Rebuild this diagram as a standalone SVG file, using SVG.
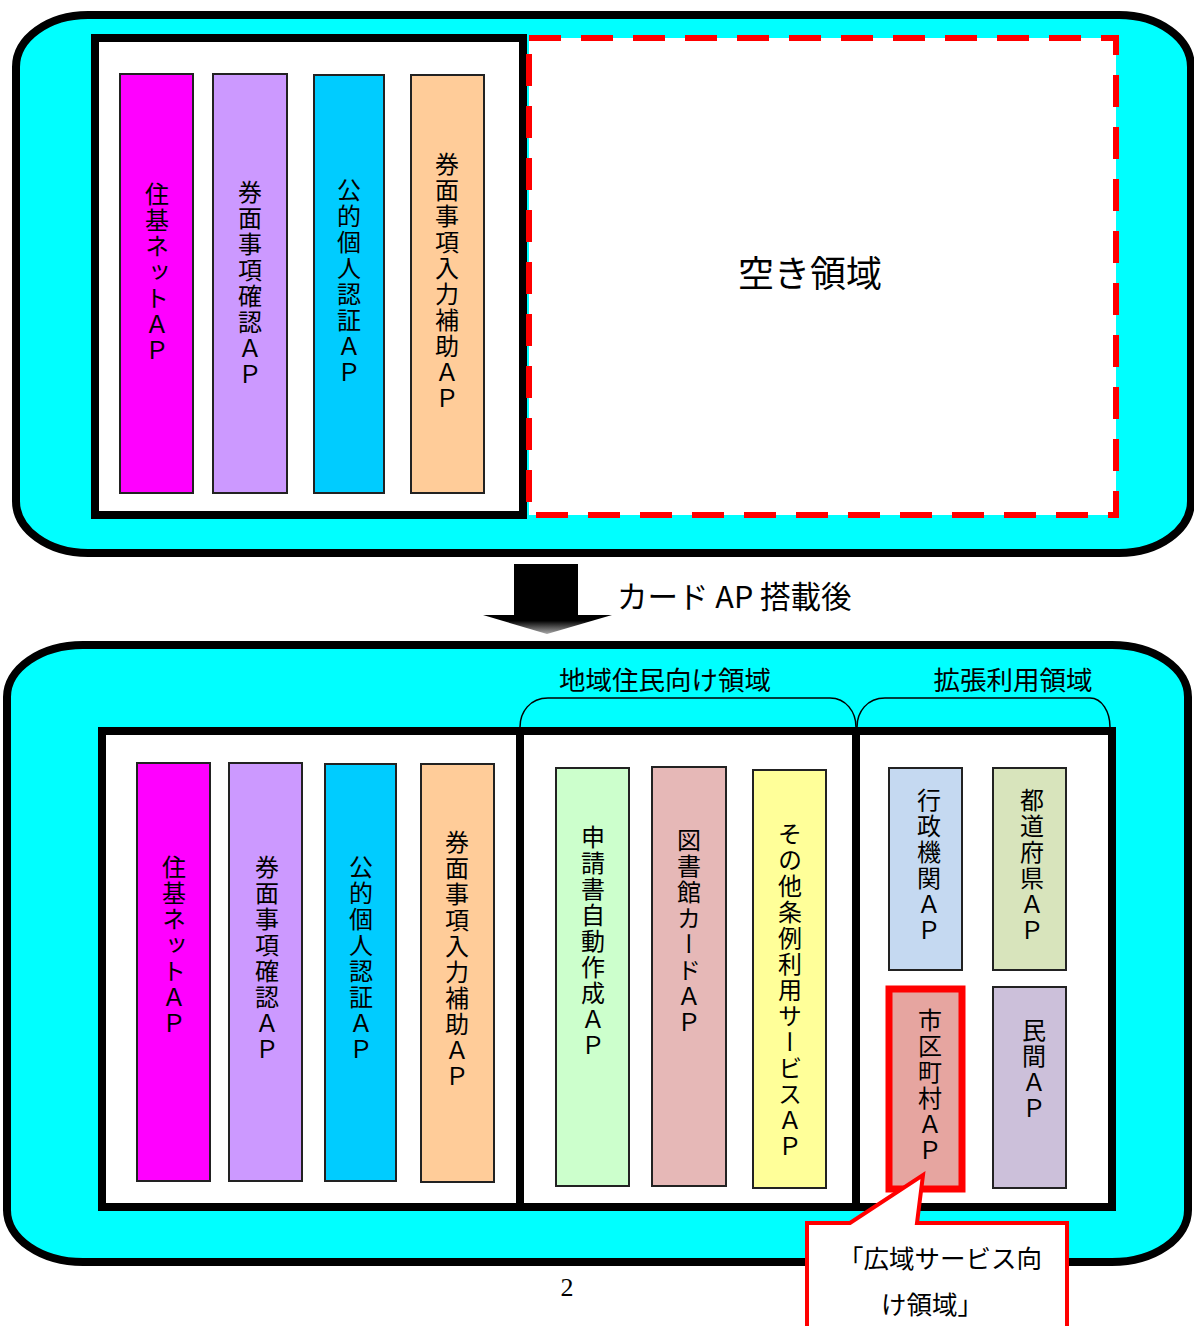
<svg xmlns="http://www.w3.org/2000/svg" width="1194" height="1326" viewBox="0 0 1194 1326">
<style>
.outer{fill:#00FFFF;stroke:#000;stroke-width:8}
.inner{fill:#fff;stroke:#000;stroke-width:8}
.bar{stroke:#222;stroke-width:2}
.vt{font-family:"Noto Sans CJK JP","Noto Sans",sans-serif;font-size:24px;fill:#000;writing-mode:vertical-rl;text-orientation:upright;letter-spacing:2px}
.ht{font-family:"Noto Sans CJK JP","Noto Sans",sans-serif;fill:#000}
.brace{fill:none;stroke:#000;stroke-width:1.5}
</style>
<defs>
<linearGradient id="headg" x1="0" y1="0" x2="0" y2="1">
<stop offset="0" stop-color="#000"/>
<stop offset="0.3" stop-color="#000"/>
<stop offset="1" stop-color="#aaa"/>
</linearGradient>
</defs>

<!-- TOP PANEL -->
<g id="top-panel">
<rect class="outer" x="16" y="15" width="1175" height="538" rx="72" ry="52"/>
<rect class="inner" x="95" y="38" width="428" height="477"/>
</g>
<g id="free-area">
<rect x="529" y="38" width="587" height="477" fill="#fff" stroke="#FF0000" stroke-width="6" stroke-dasharray="32 20"/>
<text class="ht" x="810" y="287" font-size="36" text-anchor="middle">空き領域</text>
</g>
<g id="top-ap1"><rect class="bar" x="120" y="74" width="73" height="419" fill="#FF00FF"/><text class="vt" x="157" y="182">住基ネットＡＰ</text></g>
<g id="top-ap2"><rect class="bar" x="213" y="74" width="74" height="419" fill="#CC99FF"/><text class="vt" x="250" y="180">券面事項確認ＡＰ</text></g>
<g id="top-ap3"><rect class="bar" x="314" y="75" width="70" height="418" fill="#00CCFF"/><text class="vt" x="349" y="178">公的個人認証ＡＰ</text></g>
<g id="top-ap4"><rect class="bar" x="411" y="75" width="73" height="418" fill="#FFCC99"/><text class="vt" x="447" y="152">券面事項入力補助ＡＰ</text></g>

<!-- ARROW -->
<g id="arrow">
<rect x="514" y="564" width="64" height="52" fill="#000"/>
<polygon points="483,615 612,615 547,634" fill="url(#headg)"/>
<text class="ht" x="617" y="608" font-size="30.5">カード AP 搭載後</text>
</g>

<!-- BOTTOM PANEL -->
<g id="bottom-panel">
<rect class="outer" x="7" y="645" width="1181" height="617" rx="76" ry="52"/>
<rect class="inner" x="102" y="731" width="1010" height="476"/>
<line x1="520" y1="731" x2="520" y2="1207" stroke="#000" stroke-width="8"/>
<line x1="856" y1="731" x2="856" y2="1207" stroke="#000" stroke-width="8"/>
</g>

<g id="connectors">
<path class="brace" d="M520,727 C520,712 530,698 548,698 L830,698 C846,698 856,712 856,727"/>
<path class="brace" d="M857,727 C857,712 867,698 885,698 L1090,698 C1102,698 1110,712 1110,727"/>
</g>
<g id="label-local"><text class="ht" x="665" y="690" font-size="26.5" text-anchor="middle">地域住民向け領域</text></g>
<g id="label-ext"><text class="ht" x="1013" y="690" font-size="26.5" text-anchor="middle">拡張利用領域</text></g>

<g id="b-ap1"><rect class="bar" x="137" y="763" width="73" height="418" fill="#FF00FF"/><text class="vt" x="174" y="855">住基ネットＡＰ</text></g>
<g id="b-ap2"><rect class="bar" x="229" y="763" width="73" height="418" fill="#CC99FF"/><text class="vt" x="267" y="855">券面事項確認ＡＰ</text></g>
<g id="b-ap3"><rect class="bar" x="325" y="764" width="71" height="417" fill="#00CCFF"/><text class="vt" x="361" y="855">公的個人認証ＡＰ</text></g>
<g id="b-ap4"><rect class="bar" x="421" y="764" width="73" height="418" fill="#FFCC99"/><text class="vt" x="457" y="830">券面事項入力補助ＡＰ</text></g>
<g id="b-ap5"><rect class="bar" x="556" y="768" width="73" height="418" fill="#CCFFCC"/><text class="vt" x="593" y="825">申請書自動作成ＡＰ</text></g>
<g id="b-ap6"><rect class="bar" x="652" y="767" width="74" height="419" fill="#E6B8B7"/><text class="vt" x="689" y="828">図書館カードＡＰ</text></g>
<g id="b-ap7"><rect class="bar" x="753" y="770" width="73" height="418" fill="#FFFF99"/><text class="vt" x="790" y="822">その他条例利用サービスＡＰ</text></g>
<g id="b-ap8"><rect class="bar" x="889" y="768" width="73" height="202" fill="#C5D9F1"/><text class="vt" x="929" y="788">行政機関ＡＰ</text></g>
<g id="b-ap9"><rect class="bar" x="993" y="768" width="73" height="202" fill="#D8E4BC"/><text class="vt" x="1032" y="788">都道府県ＡＰ</text></g>
<g id="b-ap10"><rect x="889" y="989" width="73" height="200" fill="#E6A5A0" stroke="#FF0000" stroke-width="7"/><text class="vt" x="930" y="1008">市区町村ＡＰ</text></g>
<g id="b-ap11"><rect class="bar" x="993" y="987" width="73" height="201" fill="#CCC0DA"/><text class="vt" x="1034" y="1018">民間ＡＰ</text></g>

<text x="567" y="1296" font-family="Liberation Serif,serif" font-size="26" text-anchor="middle">2</text>

<g id="callout">
<path d="M807,1330 L807,1223 L850,1223 L923,1175 L917,1223 L1067,1223 L1067,1330" fill="#fff" stroke="#FF0000" stroke-width="4"/>
<text class="ht" x="940" y="1268" font-size="25.5" text-anchor="middle">「広域サービス向</text>
<text class="ht" x="932" y="1314" font-size="25.5" text-anchor="middle">け領域」</text>
</g>
</svg>
